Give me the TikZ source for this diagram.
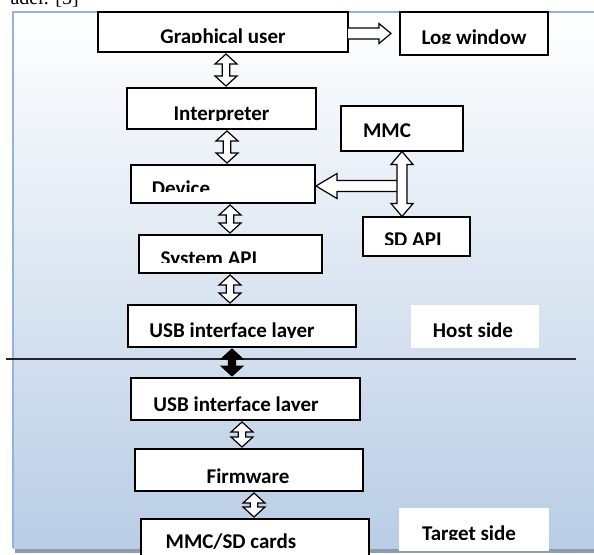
\documentclass[tikz,border=0pt]{standalone}
\usepackage{fontspec}
\setmainfont{Carlito}
\newfontfamily\refserif{Liberation Serif}
\usetikzlibrary{calc}
\definecolor{panelbot}{RGB}{185,205,229}
\definecolor{panelmid}{RGB}{226,233,243}
\definecolor{paneledge}{RGB}{149,179,215}
\definecolor{shadowc}{RGB}{141,156,176}
\tikzset{
 box/.style={draw=black, line width=1.5pt, fill=white, inner sep=0pt, outer sep=0pt},
 lbl/.style={fill=white, inner sep=0pt, outer sep=0pt},
 txt/.style={font=\fontsize{21}{24}\selectfont\bfseries, inner sep=0pt, anchor=base},
 hollow/.style={draw=black, line width=1.2pt, fill=white, line join=miter},
 solidarrow/.style={draw=black, line width=1pt, fill=black, line join=miter},
 mask/.style={fill=white}
}
\newcommand\mybox[6][box]{\node[#1, minimum width={(#5-#3)*1pt}, minimum height={(#6-#4)*1pt}] (#2) at ({(#3+#5)/2},{(#4+#6)/2}) {};}
\newcommand\maskbelow[2]{\fill[mask] let \p1=(#1.south west), \p2=(#1.south east), \p3=(0,#2) in (\x1+1pt,\y3) rectangle (\x2-1pt,\y1+0.8pt);}
\def\ahl{10pt}\def\ahw{11pt}\def\asw{3.7pt}\def\agap{2pt}
\newcommand\vdarrow[4][hollow]{%
 \draw[#1] let \p1=(#2.south), \p2=(#3.north), \p3=(#4,0) in
 (\x3,\y1-\agap) -- (\x3+\ahw,\y1-\agap-\ahl) -- (\x3+\asw,\y1-\agap-\ahl) -- (\x3+\asw,\y2+\agap+\ahl) -- (\x3+\ahw,\y2+\agap+\ahl) -- (\x3,\y2+\agap) -- (\x3-\ahw,\y2+\agap+\ahl) -- (\x3-\asw,\y2+\agap+\ahl) -- (\x3-\asw,\y1-\agap-\ahl) -- (\x3-\ahw,\y1-\agap-\ahl) -- cycle;}
\begin{document}
\begin{tikzpicture}[x=1pt,y=-1pt]
\useasboundingbox (0,0) rectangle (594,554);
% panel
\fill[shadowc] (15,547) rectangle (600,553);
\shade[top color=white, middle color=panelmid, bottom color=panelbot] (13,12) rectangle (600,548);
\draw[paneledge, line width=1.5pt] (13,548) -- (13,12) -- (600,12);
\node[font=\refserif\fontsize{20}{22}\selectfont, anchor=base east, inner sep=0pt] (refnote) at (79,5) {ader. [5]};
% separator
\coordinate (hl) at (6,359);
\coordinate (hr) at (576,359);
\draw[line width=1.5pt, black!85] (hl) -- (hr);
% boxes
\mybox{gui}{98}{12}{348}{52}
\mybox{log}{400}{12}{548}{55}
\mybox{interp}{127}{88}{316}{129}
\mybox{mmc}{341}{106}{463}{151}
\mybox{dev}{131}{165}{315}{203}
\mybox{sdapi}{363}{217}{470}{256}
\mybox{sysapi}{139}{235}{322}{273}
\mybox{usbh}{128}{305}{356}{347}
\mybox[lbl]{host}{411}{305}{539}{348}
\mybox{usbt}{131}{378}{360}{420}
\mybox{firm}{135}{449}{363}{491}
\mybox{mmcsd}{141}{519}{369}{575}
\mybox[lbl]{target}{399}{508}{549}{551}
% texts
\node[txt] (guit) at (223,43) {Graphical user};
\node[txt] (logt) at (474,44) {Log window};
\node[txt] (interpt) at (221.5,120.5) {Interpreter};
\node[txt] (mmct) at (387,137) {MMC};
\node[txt] (devt) at (181,195.5) {Device};
\node[txt] (sdapit) at (413,246.5) {SD API};
\node[txt] (sysapit) at (209,265.5) {System API};
\node[txt] (usbht) at (232,337.5) {USB interface layer};
\node[txt] (hostt) at (473,337) {Host side};
\node[txt] (usbtt) at (236,411) {USB interface layer};
\node[txt] (firmt) at (248,483) {Firmware};
\node[txt] (mmcsdt) at (231,548) {MMC/SD cards};
\node[txt] (targett) at (469,540.5) {Target side};
% clipped text bottoms
\maskbelow{gui}{42.5}
\maskbelow{log}{44}
\maskbelow{interp}{120.5}
\maskbelow{dev}{192}
\maskbelow{sdapi}{245}
\maskbelow{sysapi}{263}
\maskbelow{usbh}{337.5}
\maskbelow{usbt}{410.5}
\maskbelow{target}{539.5}
% arrows
\vdarrow{gui}{interp}{226}
\vdarrow{interp}{dev}{227}
\vdarrow{dev}{sysapi}{230}
\vdarrow{sysapi}{usbh}{230}
\vdarrow[solidarrow]{usbh}{usbt}{232}
\vdarrow{usbt}{firm}{242}
\vdarrow{firm}{mmcsd}{254}
\draw[hollow] let \p1=(gui.east), \p2=(log.west), \p3=(0,33.5) in
 (\x1,\y3+5.5pt) -- (\x2-21pt,\y3+5.5pt) -- (\x2-21pt,\y3+10pt) -- (\x2-9pt,\y3) -- (\x2-21pt,\y3-10pt) -- (\x2-21pt,\y3-5.5pt) -- (\x1,\y3-5.5pt);
\coordinate (jn) at (399,186);
\draw[hollow] let \p1=(jn), \p2=(dev.east) in
 (\x1,\y1+5.5pt) -- (\x2+22pt,\y1+5.5pt) -- (\x2+22pt,\y1+12.5pt) -- (\x2+1pt,\y1) -- (\x2+22pt,\y1-12.5pt) -- (\x2+22pt,\y1-5.5pt) -- (\x1,\y1-5.5pt);
\def\ahl{13pt}\def\asw{5pt}\def\agap{0.5pt}
\vdarrow{mmc}{sdapi}{402}
\end{tikzpicture}
\end{document}
